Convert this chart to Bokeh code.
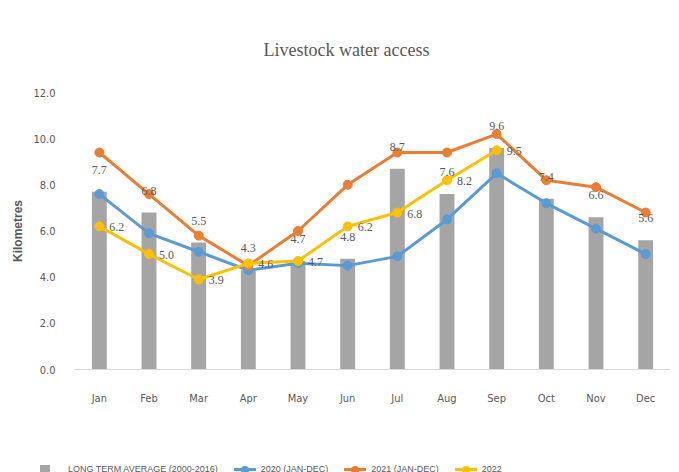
from bokeh.plotting import figure
from bokeh.layouts import column
from bokeh.models import (ColumnDataSource, FactorRange, Range1d, LabelSet, FixedTicker,
                          NumeralTickFormatter, Div)
from bokeh.embed import file_html
from bokeh.resources import INLINE

months = ["Jan", "Feb", "Mar", "Apr", "May", "Jun", "Jul", "Aug", "Sep", "Oct", "Nov", "Dec"]
long_term = [7.7, 6.8, 5.5, 4.3, 4.7, 4.8, 8.7, 7.6, 9.6, 7.4, 6.6, 5.6]
series_blue = [7.6, 5.9, 5.1, 4.3, 4.6, 4.5, 4.9, 6.5, 8.5, 7.2, 6.1, 5.0]
series_orange = [9.4, 7.6, 5.8, 4.5, 6.0, 8.0, 9.4, 9.4, 10.2, 8.2, 7.9, 6.8]
series_yellow_months = ["Jan", "Feb", "Mar", "Apr", "May", "Jun", "Jul", "Aug", "Sep"]
series_yellow = [6.2, 5.0, 3.9, 4.6, 4.7, 6.2, 6.8, 8.2, 9.5]
legend_names = ["LONG TERM AVERAGE (2000-2016)", "2020 (JAN-DEC)", "2021 (JAN-DEC)", "2022"]
y_ticks = [0, 2, 4, 6, 8, 10, 12]

GREY = "#A5A5A5"
BLUE = "#5B9BD5"
ORANGE = "#ED7D31"
YELLOW = "#FFC000"
TXT = "#595959"
NARROW = "DejaVu Sans Condensed"

p = figure(width=663, height=455, output_backend="svg", toolbar_location=None,
           x_range=FactorRange(*months, range_padding=0), y_range=Range1d(0, 12),
           min_border_left=59, min_border_right=1, min_border_top=92, min_border_bottom=86,
           title="Livestock water access", margin=(0, 0, 0, 8))
p.outline_line_color = None
p.xgrid.visible = False
p.ygrid.visible = False

p.title.align = "left"
p.title.offset = 189
p.title.text_font = "Liberation Serif"
p.title.text_font_style = "normal"
p.title.text_font_size = "18px"
p.title.text_color = TXT
p.title.standoff = 65

bar_src = ColumnDataSource(dict(m=months, v=long_term, lab=[f"{v:.1f}" for v in long_term]))
p.vbar(x="m", top="v", width=0.3, source=bar_src, color=GREY, line_color=None)
blue_src = ColumnDataSource(dict(m=months, v=series_blue))
p.line("m", "v", source=blue_src, line_color=BLUE, line_width=3)
p.scatter("m", "v", source=blue_src, size=9, fill_color=BLUE, line_color=BLUE)
or_src = ColumnDataSource(dict(m=months, v=series_orange))
p.line("m", "v", source=or_src, line_color=ORANGE, line_width=3)
p.scatter("m", "v", source=or_src, size=9, fill_color=ORANGE, line_color=ORANGE)
ye_src = ColumnDataSource(dict(m=series_yellow_months, v=series_yellow,
                               lab=[f"{v:.1f}" for v in series_yellow]))
p.line("m", "v", source=ye_src, line_color=YELLOW, line_width=3)
p.scatter("m", "v", source=ye_src, size=9, fill_color=YELLOW, line_color=YELLOW)

p.add_layout(LabelSet(x="m", y="v", text="lab", source=bar_src, y_offset=22,
                      text_align="center", text_baseline="middle", text_font=NARROW,
                      text_font_size="12px", text_color=TXT))
p.add_layout(LabelSet(x="m", y="v", text="lab", source=ye_src, x_offset=10, y_offset=-1,
                      text_align="left", text_baseline="middle", text_font=NARROW,
                      text_font_size="12px", text_color=TXT))

p.yaxis.ticker = FixedTicker(ticks=y_ticks)
p.yaxis.formatter = NumeralTickFormatter(format="0.0")
p.yaxis.axis_line_color = None
p.yaxis.major_tick_line_color = None
p.yaxis.minor_tick_line_color = None
p.yaxis.major_label_standoff = 13
p.yaxis.major_label_text_font = NARROW
p.yaxis.major_label_text_font_size = "11px"
p.yaxis.major_label_text_color = TXT
p.yaxis.axis_label = "Kilometres"
p.yaxis.axis_label_text_font = "Liberation Sans"
p.yaxis.axis_label_text_font_style = "bold"
p.yaxis.axis_label_text_font_size = "12px"
p.yaxis.axis_label_text_color = TXT
p.yaxis.axis_label_standoff = 5

p.xaxis.axis_line_color = "#D9D9D9"
p.xaxis.major_tick_line_color = None
p.xaxis.minor_tick_line_color = None
p.xaxis.major_label_standoff = 16
p.xaxis.major_label_text_font = NARROW
p.xaxis.major_label_text_font_size = "11px"
p.xaxis.major_label_text_color = TXT


def swatch(color, kind):
    if kind == "bar":
        return (f'<span style="display:inline-block;width:10px;height:10px;'
                f'background:{color};vertical-align:middle;margin:0 18px 0 0"></span>')
    return (f'<span style="display:inline-block;position:relative;width:22px;height:10px;'
            f'vertical-align:middle;margin-right:5px">'
            f'<span style="position:absolute;left:0;top:3.5px;width:22px;height:3px;'
            f'background:{color}"></span>'
            f'<span style="position:absolute;left:7px;top:1px;width:8px;height:8px;'
            f'border-radius:50%;background:{color}"></span></span>')


kinds = [(GREY, "bar"), (BLUE, "line"), (ORANGE, "line"), (YELLOW, "line")]
items = "".join(
    f'<span style="margin-right:16px;white-space:nowrap">{swatch(c, k)}{name}</span>'
    for name, (c, k) in zip(legend_names, kinds))
legend_div = Div(text=f'<div style="padding-left:35px;font-family:Liberation Sans,sans-serif;'
                      f'font-size:9px;color:{TXT};line-height:12px;white-space:nowrap">{items}</div>',
                 width=671, height=16)

layout = column(p, legend_div, spacing=0)
open("out.html", "w").write(file_html(layout, INLINE))
